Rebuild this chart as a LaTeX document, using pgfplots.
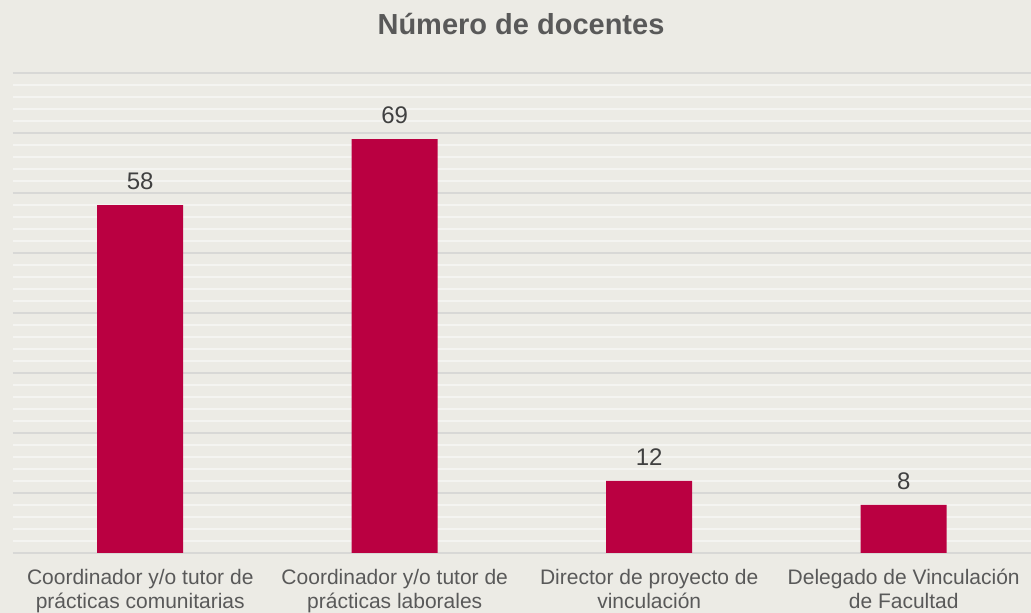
\documentclass[border=0pt]{standalone}
\usepackage{pgfplots}
\pgfplotsset{compat=1.18}
\usepackage{fontspec}
\setmainfont{Liberation Sans}
\definecolor{bgc}{HTML}{ECEBE5}
\definecolor{majg}{HTML}{D8D8D6}
\definecolor{ming}{HTML}{F4F4F1}
\definecolor{barc}{HTML}{BA0041}
\definecolor{txt}{HTML}{595959}
\definecolor{lbl}{HTML}{404040}
\begin{document}
\begin{tikzpicture}[x=1pt,y=1pt]
\fill[bgc] (0,0) rectangle (1031,613);
\useasboundingbox (0,0) rectangle (1031,613);
\node[font=\fontsize{29}{34}\selectfont\bfseries, text=txt] at (521,589) {Número de docentes};
\begin{axis}[
  at={(13pt,60pt)}, anchor=south west,
  scale only axis, width=1018pt, height=480pt,
  xmin=-0.5, xmax=3.5, ymin=0, ymax=80,
  clip=false,
  axis line style={draw=none},
  major tick length=0pt, minor tick length=0pt,
  ytick={0,10,...,80}, yticklabels={},
  minor ytick={2,4,6,8,12,14,16,18,22,24,26,28,32,34,36,38,42,44,46,48,52,54,56,58,62,64,66,68,72,74,76,78},
  ymajorgrids, yminorgrids,
  major grid style={draw=majg, line width=2pt},
  minor grid style={draw=ming, line width=2pt},
  xtick={0,1,2,3},
  xticklabels={{Coordinador y/o tutor de\\prácticas comunitarias},{Coordinador y/o tutor de\\prácticas laborales},{Director de proyecto de\\vinculación},{Delegado de Vinculación\\de Facultad}},
  xticklabel style={align=center, text=txt, font=\fontsize{21}{24}\selectfont, anchor=north, yshift=-13pt},
  /pgf/number format/assume math mode=true,
  nodes near coords,
  nodes near coords style={font=\fontsize{24}{28}\selectfont, text=lbl, anchor=south, yshift=12pt},
]
\addplot[ybar, bar width=86pt, fill=barc, draw=none] coordinates {(0,58) (1,69) (2,12) (3,8)};
\end{axis}
\end{tikzpicture}
\end{document}
